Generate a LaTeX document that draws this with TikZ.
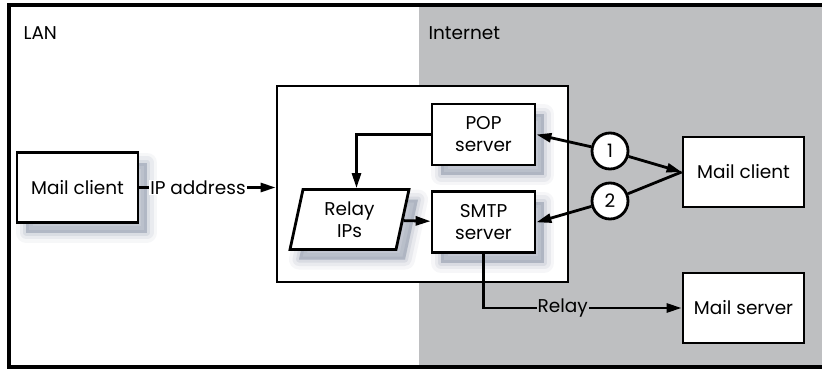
\documentclass[tikz,border=0pt]{standalone}
\usepackage{fontspec}
\setmainfont{Poppins}
\usepackage{tikz}
\usetikzlibrary{arrows.meta}
\usetikzlibrary{positioning}
\usetikzlibrary{shapes.geometric}
\usetikzlibrary{shadows}
\definecolor{internet}{RGB}{190,191,193}
\definecolor{shadowc}{RGB}{105,118,142}

\begin{document}
\begin{tikzpicture}[x=1pt,y=-1pt,font=\fontsize{18.5}{22}\selectfont,
    box/.style={draw, line width=2.8pt, fill=white, align=center,
      minimum width=103pt, minimum height=61pt, inner sep=2pt},
    bigbox/.style={box, minimum width=121pt, minimum height=70pt},
    shade/.style={
      drop shadow={shadow xshift=9pt, shadow yshift=-10pt, fill=shadowc,
        draw=shadowc, line width=20pt, line join=round, opacity=0.06},
      drop shadow={shadow xshift=9pt, shadow yshift=-10pt, fill=shadowc,
        draw=shadowc, line width=13pt, line join=round, opacity=0.09},
      drop shadow={shadow xshift=9pt, shadow yshift=-10pt, fill=shadowc,
        draw=shadowc, line width=6pt, line join=round, opacity=0.12},
      drop shadow={shadow xshift=9pt, shadow yshift=-10pt, fill=shadowc,
        draw=none, opacity=0.15}},
    step1/.style={draw, circle, line width=2.8pt, fill=white,
      minimum size=36pt, inner sep=0pt},
    link/.style={line width=2.8pt, -{Triangle[length=15pt,width=9pt]}}]
            \useasboundingbox (0,0) rectangle (822,369);
            % the two zones
            \fill[internet] (419,5) rectangle (822,367);
            \draw[line width=3.5pt] (822,5) -- (9,5) -- (9,367) -- (822,367);
            \node[anchor=west](lan) at (20,33){LAN};
            \node[anchor=west](inet) at (425,33){Internet};
            % the host
            \node[draw, line width=2.8pt, fill=white, minimum width=291pt,
              minimum height=196pt](host) at (422.5,184){};
            \node[box, shade](pop) at (483.5,134.5){POP\\server};
            \node[box, shade, below=24pt of pop](smtp){SMTP\\server};
            \node[draw, line width=2.8pt, fill=white, shade, trapezium,
              trapezium left angle=73, trapezium right angle=107,
              trapezium stretches body, minimum width=119pt, minimum height=60pt,
              inner xsep=0pt, align=center](relay) at (349.5,219.5){Relay\\IPs};
            % outside
            \node[bigbox, shade](lclient) at (77.5,187.5){Mail client};
            \node[bigbox](rclient) at (743.5,172){Mail client};
            \node[bigbox](mserver) at (743.5,308){Mail server};
            \node[step1](one) at (610,151){1};
            \node[step1](two) at (610,201){2};
            % connectors
            \draw[link] (lclient.east) -- node[pos=0.43, fill=white, inner sep=1pt]{IP address}
              (lclient.east -| host.west);
            \draw[link] (pop.west) -| ([xshift=7pt]relay.north);
            \draw[link] (relay) -- (smtp);
            \draw[link] (one) -- (pop.east);
            \draw[link] (one) -- (rclient.west);
            \draw[line width=2.8pt] (rclient.west) -- (two);
            \draw[link] (two) -- (smtp.east);
            \draw[link] (smtp.south) |- node[pos=0.7, fill=internet, inner sep=1pt]{Relay}
              (mserver.west);
        \end{tikzpicture}
\end{document}
